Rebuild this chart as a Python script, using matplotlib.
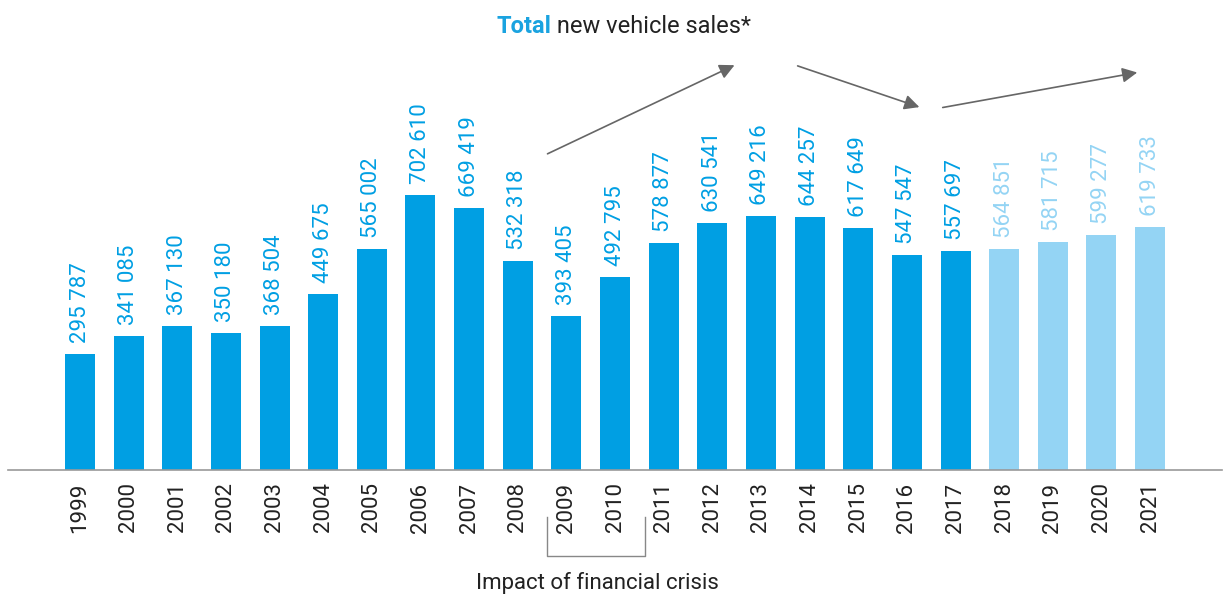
import matplotlib
matplotlib.use('Agg')
import matplotlib.pyplot as plt
import numpy as np

plt.rcParams['font.family'] = ['Roboto', 'DejaVu Sans']

years = [str(y) for y in range(1999, 2022)]
sales = [295787, 341085, 367130, 350180, 368504, 449675, 565002, 702610,
         669419, 532318, 393405, 492795, 578877, 630541, 649216, 644257,
         617649, 547547, 557697, 564851, 581715, 599277, 619733]
forecast_from = '2018'

DARK = '#009fe3'
LIGHT = '#94d4f4'
GREY = '#666666'
TEXT = '#222222'

W, H = 1226, 599
fig = plt.figure(figsize=(W / 100, H / 100), dpi=100)

# axes spans the baseline line across the figure
base = 470
ax = fig.add_axes([8 / W, (H - base) / H, 1214 / W, base / H])
px = 48.64
c0 = 80
x = np.arange(len(years))
ax.set_xlim((8 - c0) / px, (1222 - c0) / px)
ax.set_ylim(0, base / 3.92e-4)

colors = [LIGHT if int(y) >= int(forecast_from) else DARK for y in years]
ax.bar(x, sales, width=0.617, color=colors, zorder=2)

for xi, v, c in zip(x, sales, colors):
    lbl = f'{v:,}'.replace(',', ' ')
    ax.annotate(lbl, (xi, v), xytext=(0, 11), textcoords='offset pixels',
                rotation=90, ha='center', va='bottom', color=c, fontsize=16)

for s in ['top', 'right', 'left']:
    ax.spines[s].set_visible(False)
ax.spines['bottom'].set_color('#999999')
ax.spines['bottom'].set_linewidth(1.2)
ax.set_yticks([])
ax.set_xticks(x)
ax.set_xticklabels(years, rotation=90, fontsize=16, color=TEXT)
ax.tick_params(axis='x', length=0, pad=9)

# title
t1 = fig.text(0, 0, 'Total', fontsize=17, fontweight='bold', color='#1aa3e0')
fig.canvas.draw()
r = fig.canvas.get_renderer()
w1 = t1.get_window_extent(r).width
t2 = fig.text(0, 0, ' new vehicle sales*', fontsize=17, color=TEXT)
w2 = t2.get_window_extent(r).width
x0 = 624 - (w1 + w2) / 2
t1.set_position((x0 / W, 1 - 33 / H))
t2.set_position(((x0 + w1) / W, 1 - 33 / H))

# trend arrows
def arrow(p0, p1):
    fig.add_artist(matplotlib.patches.FancyArrowPatch(
        (p0[0] / W, 1 - p0[1] / H), (p1[0] / W, 1 - p1[1] / H),
        transform=fig.transFigure, arrowstyle='-|>,head_length=6,head_width=3',
        color=GREY, linewidth=1.2, mutation_scale=1.5))

arrow((545, 155), (737, 64))
arrow((795, 65), (922, 108))
arrow((940, 108), (1140, 72))

# crisis bracket
bx = [547, 547, 645, 645]
by = [517, 556, 556, 517]
fig.add_artist(matplotlib.lines.Line2D([v / W for v in bx], [1 - v / H for v in by],
                                       transform=fig.transFigure, color='#888888', linewidth=1))
fig.text(597 / W, 1 - 583 / H, 'Impact of financial crisis', ha='center', va='center',
         fontsize=16, color=TEXT)

fig.savefig('out.png', dpi=100)
